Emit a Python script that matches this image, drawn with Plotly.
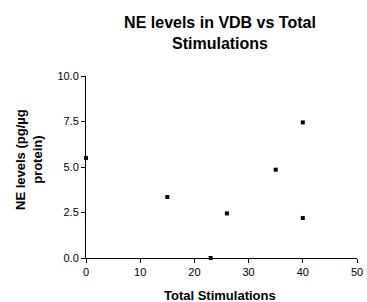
import plotly.graph_objects as go

stimulations = [0, 15, 23, 26, 35, 40, 40]
ne_levels = [5.5, 3.35, 0.0, 2.45, 4.85, 7.45, 2.2]

W, H = 367, 302
L, R, T, B = 86, 10, 76, 44

fig = go.Figure()
fig.add_trace(go.Scatter(
    x=stimulations, y=ne_levels, mode="markers",
    marker=dict(symbol="square", size=4, color="black"),
    cliponaxis=False, showlegend=False))

font_family = "Liberation Sans, Arial, sans-serif"
fig.update_layout(
    width=W, height=H,
    margin=dict(l=L, r=R, t=T, b=B, autoexpand=False),
    paper_bgcolor="white", plot_bgcolor="white",
    font=dict(family=font_family, color="black", size=11),
    title=dict(text="<b>NE levels in VDB vs Total<br>Stimulations</b>",
               x=220 / W, xanchor="center", y=1 - 28 / H, yanchor="top",
               font=dict(size=16, family=font_family)),
)
fig.update_xaxes(
    range=[0, 50], tickvals=[0, 10, 20, 30, 40, 50],
    showline=True, linecolor="black", linewidth=1,
    ticks="outside", ticklen=4, tickcolor="black",
    showgrid=False, zeroline=False, automargin=False,
)
fig.update_yaxes(
    range=[0, 10], tickvals=[0, 2.5, 5, 7.5, 10], tickformat=".1f",
    showline=True, linecolor="black", linewidth=1,
    ticks="outside", ticklen=4, tickcolor="black",
    showgrid=False, zeroline=False, automargin=False,
)
fig.add_annotation(text="<b>Total Stimulations</b>", xref="paper", yref="paper",
                   x=(220 - L) / (W - L - R), y=-(295 - (H - B)) / (H - T - B),
                   xanchor="center", yanchor="middle", showarrow=False,
                   font=dict(size=13))
fig.add_annotation(text="<b>NE levels (pg/µg<br>protein)</b>", xref="paper", yref="paper",
                   x=-(L - 29) / (W - L - R), y=((H - B) - 160) / (H - T - B),
                   xanchor="center", yanchor="middle", textangle=-90, showarrow=False,
                   font=dict(size=13))
fig.write_html("out.html", config={"displayModeBar": False})

with open("out.html", encoding="utf-8") as f:
    html = f.read()
html = html.replace("<head>", "<head><style>html,body{margin:0;padding:0;overflow:hidden}</style>", 1)
with open("out.html", "w", encoding="utf-8") as f:
    f.write(html)
